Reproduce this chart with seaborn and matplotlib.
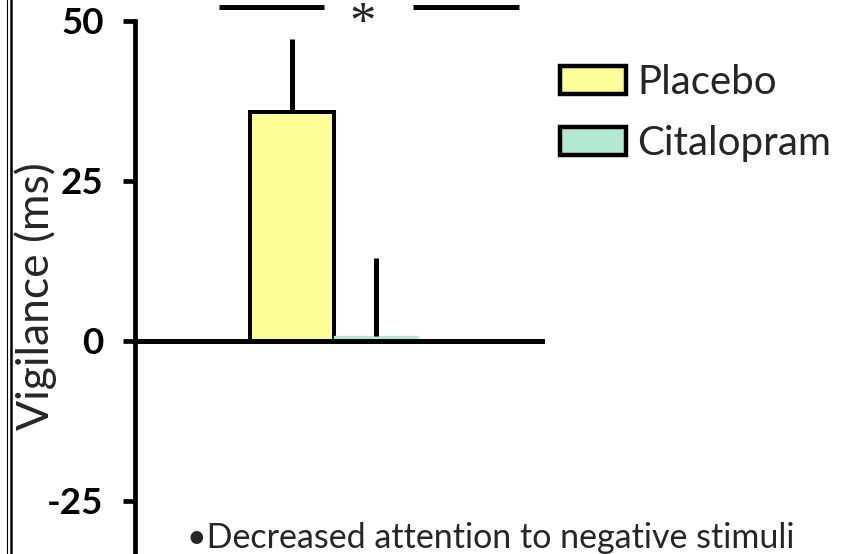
import matplotlib
matplotlib.use('Agg')
import matplotlib.pyplot as plt
import seaborn as sns
import pandas as pd
import numpy as np
from matplotlib.patches import Patch
from matplotlib.lines import Line2D

# ---- data ----
groups = ['Placebo', 'Citalopram']
vigilance = [35.7, 0.8]
sem_upper = [11.4, 12.2]
yticks = [-25, 0, 25, 50]
ytick_labels = ['-25', '0', '25', '50']
ylabel = 'Vigilance (ms)'
note = '\u2022Decreased attention to negative stimuli'
sig_label = '*'
colors = ['#FFFF99', '#B3E8D4']

sns.set_theme(style='white')
plt.rcParams['font.family'] = ['Lato', 'DejaVu Sans']

W, H = 852, 554
fig = plt.figure(figsize=(W / 100, H / 100), dpi=100)
ax_left, ax_right, ax_top = 135, 542, 20.7
ax = fig.add_axes([ax_left / W, 0, (ax_right - ax_left) / W, 1 - ax_top / H])

df = pd.DataFrame({'group': groups, 'value': vigilance})
sns.barplot(data=df, x='group', y='value', hue='group', order=groups,
            hue_order=groups, palette=colors, width=1.0, errorbar=None,
            legend=False, saturation=1, edgecolor='black', linewidth=2.9,
            ax=ax)
# citalopram bar shows no black outline in the reference
for p in ax.patches:
    cx = p.get_x() + p.get_width() / 2
    if abs(cx - 1) < 0.5:
        p.set_edgecolor(colors[1])
        p.set_linewidth(1)

# upward-only error bars
ax.vlines(x=np.arange(len(groups)), ymin=vigilance,
          ymax=np.add(vigilance, sem_upper), colors='black', lw=3.6, zorder=5)

ax.set_xlim(-1.869, 2.976)
ax.set_ylim(-33.3, 50)
ax.set_xticks([])
ax.set_xlabel('')
ax.set_ylabel('')
ax.set_yticks(yticks, labels=ytick_labels, fontweight='bold', fontsize=26.5)
ax.tick_params(axis='y', left=True, length=8.6, width=3.4, pad=14,
               direction='out', color='black', labelcolor='black')
for s in ['top', 'right']:
    ax.spines[s].set_visible(False)
ax.spines['left'].set_linewidth(3.4)
ax.spines['left'].set_color('black')
ax.spines['bottom'].set_position(('data', 0))
ax.spines['bottom'].set_linewidth(3.6)
ax.spines['bottom'].set_color('black')
ax.set_facecolor('white')

# significance bracket
yb = 52.2
ax.plot([-0.87, 0.38], [yb, yb], color='black', lw=3.6, clip_on=False,
        solid_capstyle='butt')
ax.plot([1.44, 2.70], [yb, yb], color='black', lw=3.6, clip_on=False,
        solid_capstyle='butt')
fig.text(363 / W, 1 - 38 / H, sig_label, family='Liberation Serif',
         fontsize=38, ha='center', va='baseline')

# y label
fig.text(36 / W, 1 - 296 / H, ylabel, rotation=90, fontsize=32,
         ha='center', va='center')

# note
fig.text(187 / W, 1 - 548 / H, note, fontsize=24.5, ha='left', va='baseline')

# legend
handles = [Patch(facecolor=c, edgecolor='black', linewidth=3.2) for c in colors]
fig.legend(handles, groups, loc='upper left', bbox_to_anchor=(560 / W, 1 - 64 / H),
           frameon=False, fontsize=29, handlelength=1.63, handleheight=0.7,
           handletextpad=0.28, labelspacing=0.6, borderpad=0, borderaxespad=0)

# double border at left edge
fig.add_artist(Line2D([6.5 / W] * 2, [0, 1], lw=0.8, color='black',
                      transform=fig.transFigure))
fig.add_artist(Line2D([11 / W] * 2, [0, 1], lw=1.8, color='black',
                      transform=fig.transFigure))

fig.savefig('out.png', dpi=100, facecolor='white')
